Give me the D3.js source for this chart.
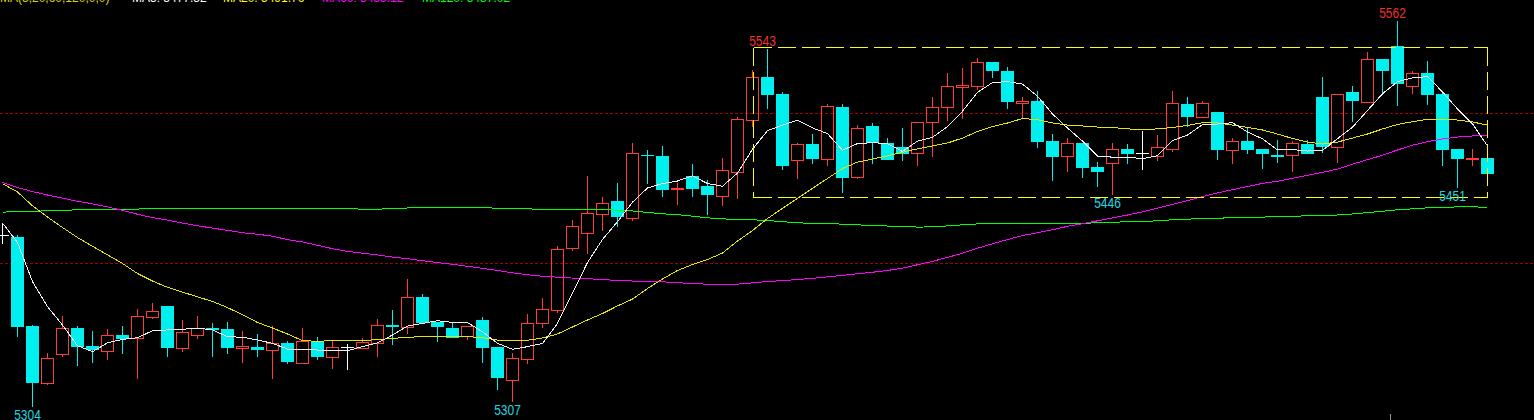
<!DOCTYPE html>
<html><head><meta charset="utf-8">
<script src="https://cdn.jsdelivr.net/npm/d3@7"></script>
<style>html,body{margin:0;padding:0;background:#000;overflow:hidden}svg{display:block}</style>
</head><body><svg id="c" width="1534" height="420"></svg>
<script>
// ---- data ----
const opens = [5418.5,5417.1,5357.4,5319.4,5338.9,5356.1,5344.0,5340.9,5351.4,5349.2,
5363.7,5370.9,5342.9,5351.6,5356.1,5355.4,5342.9,5343.6,5341.5,5345.8,
5332.8,5346.9,5336.8,5343.2,5342.9,5345.8,5357.9,5357.0,5376.9,5360.1,
5356.1,5350.9,5361.5,5343.4,5321.4,5335.5,5359.2,5368.4,5410.0,5420.0,
5432.8,5441.3,5430.1,5472.1,5471.5,5449.5,5458.0,5451.3,5444.8,5460.9,
5495.4,5524.2,5513.0,5469.0,5479.5,5469.6,5504.3,5457.6,5491.4,5480.0,
5477.3,5473.3,5494.1,5504.1,5517.9,5518.2,5534.5,5528.5,5506.8,5508.3,
5481.5,5471.7,5480.2,5464.1,5467.0,5476.2,5473.3,5471.7,5476.0,5506.3,
5497.8,5501.0,5475.7,5481.5,5476.2,5472.3,5471.9,5479.5,5511.0,5477.7,
5514.4,5507.9,5536.5,5545.2,5518.6,5527.1,5513.0,5476.2,5469.3,5470.1];
const highs = [5426.3,5418.7,5358.1,5339.3,5364.1,5357.4,5354.1,5355.4,5357.4,5368.8,
5372.9,5370.9,5361.5,5364.1,5359.5,5360.1,5354.1,5352.1,5357.4,5347.2,
5356.1,5349.9,5347.8,5345.2,5349.4,5362.1,5368.2,5389.0,5378.9,5360.1,
5359.2,5357.2,5363.5,5343.4,5339.1,5365.3,5376.0,5410.9,5428.5,5458.0,
5443.8,5453.3,5480.2,5475.5,5478.2,5453.3,5466.1,5455.4,5470.1,5497.4,
5529.1,5543,5514.4,5480.2,5486.2,5506.3,5506.3,5492.2,5493.6,5483.7,
5490.4,5494.1,5511.0,5527.1,5530.5,5537.2,5534.5,5531.1,5511.0,5515.1,
5486.2,5483.5,5480.2,5467.4,5480.2,5479.5,5488.2,5485.5,5515.1,5511.0,
5508.3,5501.0,5483.7,5490.2,5476.2,5482.0,5481.7,5482.2,5524.4,5512.8,
5518.4,5541.2,5536.5,5562,5528.5,5535.0,5514.4,5476.2,5476.2,5472.3];
const lows = [5412.9,5350.9,5304,5318.7,5337.5,5331.5,5333.5,5335.5,5339.5,5322.8,
5363.0,5337.5,5340.9,5349.6,5337.5,5339.5,5333.5,5337.5,5322.8,5332.6,
5332.8,5335.5,5329.5,5328.8,5342.9,5337.5,5345.6,5352.9,5359.2,5347.2,
5349.2,5348.9,5333.5,5315.4,5307,5332.8,5357.0,5367.0,5408.6,5406.6,
5422.0,5424.7,5428.7,5453.5,5444.6,5439.3,5444.6,5432.6,5438.8,5443.5,
5491.6,5503.9,5462.9,5456.9,5467.0,5465.6,5447.5,5456.9,5467.0,5469.0,
5469.0,5465.6,5471.7,5495.4,5496.9,5516.6,5524.6,5503.9,5497.1,5477.7,
5455.6,5461.6,5457.6,5451.5,5446,5467.0,5462.9,5469.0,5475.0,5491.8,
5497.8,5469.6,5467.0,5473.7,5463.6,5467.6,5461.6,5473.0,5474.3,5467.6,
5495.1,5507.9,5514.4,5505.9,5513.9,5506.5,5465.6,5451,5465.6,5457.6];
const closes = [5418.5,5357.0,5319.4,5335.8,5356.1,5343.6,5341.5,5351.2,5348.9,5363.9,
5367.3,5342.9,5353.2,5356.3,5354.9,5342.9,5344.2,5341.5,5345.8,5333.3,
5347.2,5336.8,5343.2,5343.2,5346.9,5357.9,5356.8,5376.7,5359.2,5357.0,
5349.2,5357.2,5342.9,5322.8,5335.8,5359.2,5368.6,5408.9,5424.3,5433.0,
5439.7,5430.7,5473.3,5471.3,5448.7,5449.8,5449.3,5445.5,5461.9,5496.1,
5524.2,5512.6,5465.0,5479.3,5469.6,5504.8,5456.9,5490.0,5480.0,5469.0,
5473.0,5494.1,5504.1,5518.2,5518.9,5534.3,5528.7,5507.9,5508.1,5481.0,
5471.0,5480.0,5463.6,5461.0,5476.2,5473.0,5473.3,5477.3,5506.8,5497.6,
5507.0,5475.7,5481.5,5475.7,5473.0,5471.0,5480.0,5473.0,5477.7,5512.8,
5508.5,5536.3,5528.7,5519.9,5527.1,5512.6,5475.7,5469.6,5469.9,5459.6];

const ma5 = [5426.5,5413.5,5387.2,5370.4,5358.1,5344.2,5340.2,5346.2,5348.5,5349.6,
5354.3,5354.8,5355.2,5356.1,5354.8,5350.3,5349.9,5348.1,5345.8,5342.0,
5342.0,5341.3,5340.9,5340.9,5343.6,5346.2,5351.4,5357.4,5359.2,5361.0,
5359.9,5359.7,5353.6,5345.8,5341.8,5343.6,5345.8,5359.2,5379.5,5400.0,
5415.5,5427.4,5440.5,5450.0,5453.0,5454.7,5458.2,5453.0,5451.2,5460.0,
5476.0,5488.5,5492.1,5495.4,5490.3,5486.5,5475.3,5479.8,5480.4,5479.8,
5474.5,5481.5,5484.0,5491.2,5501.5,5514.2,5520.7,5521.4,5519.7,5511.6,
5499.7,5490.2,5481.5,5471.4,5470.7,5470.7,5469.7,5471.6,5481.8,5485.5,
5492.5,5492.9,5493.8,5487.6,5483.0,5475.5,5475.8,5474.8,5475.2,5483.1,
5490.8,5502.0,5513.2,5521.3,5523.8,5524.7,5514.5,5503.0,5493.0,5478.2];
const ma20 = [5453.0,5447.3,5438.1,5430.5,5423.5,5416.8,5410.9,5405.2,5399.4,5392.7,
5387.6,5383.4,5380.2,5377.0,5373.9,5369.8,5365.0,5359.8,5356.1,5352.1,
5347.6,5347.2,5347.6,5347.6,5347.7,5348.3,5349.1,5349.9,5350.3,5350.3,
5350.1,5350.3,5349.7,5348.0,5347.4,5347.9,5349.4,5352.1,5356.8,5361.5,
5365.8,5370.9,5375.5,5382.6,5389.0,5394.7,5398.7,5402.0,5406.4,5414.4,
5421.5,5429.5,5436.4,5443.1,5449.8,5456.4,5463.1,5467.4,5469.4,5471.6,
5473.9,5476.3,5478.2,5480.2,5483.5,5487.9,5491.2,5493.6,5496.6,5495.9,
5493.6,5492.2,5491.6,5490.9,5490.6,5489.6,5489.4,5489.6,5490.6,5492.0,
5493.8,5493.6,5492.2,5490.7,5488.9,5486.2,5483.2,5480.8,5479.5,5480.8,
5483.5,5486.2,5489.6,5492.6,5494.5,5496.1,5496.1,5495.6,5494.3,5492.2];
const ma60 = [5453.7,5450.3,5447.6,5445.3,5443.2,5441.1,5439.4,5437.3,5435.0,5432.4,
5430.1,5428.5,5426.5,5424.7,5423.1,5421.6,5420.0,5419.0,5417.7,5415.4,
5413.8,5411.6,5409.3,5407.5,5406.3,5405.1,5403.7,5402.6,5401.2,5400.0,
5398.8,5397.5,5396.1,5394.7,5393.1,5391.8,5390.8,5390.2,5389.6,5389.2,
5388.6,5388.0,5387.6,5387.3,5387.1,5386.5,5385.9,5385.5,5385.4,5385.5,
5386.4,5387.3,5387.9,5388.6,5389.4,5390.4,5391.4,5392.5,5393.5,5394.7,
5396.2,5398.5,5400.8,5403.5,5406.2,5409.6,5412.6,5415.4,5418.1,5420.0,
5422.0,5424.3,5426.0,5428.0,5429.9,5431.9,5434.0,5436.5,5439.0,5441.5,
5444.2,5446.7,5448.9,5451.0,5453.1,5454.5,5456.5,5458.5,5460.5,5462.7,
5466.0,5469.0,5472.0,5475.5,5478.7,5481.1,5482.9,5484.2,5484.9,5485.1];
const ma120 = [5433.8,5434.2,5434.4,5434.7,5435.0,5435.4,5435.7,5435.8,5435.8,5435.9,
5436.0,5436.0,5436.1,5436.2,5436.2,5436.3,5436.4,5436.4,5436.4,5436.4,
5436.4,5436.4,5436.4,5436.4,5435.7,5435.7,5436.4,5436.6,5436.9,5437.0,
5437.0,5437.0,5436.9,5436.4,5436.2,5436.0,5435.7,5435.7,5435.6,5435.5,
5435.4,5435.2,5434.6,5433.6,5432.7,5432.1,5431.1,5430.0,5429.3,5428.9,
5428.7,5428.2,5427.4,5426.7,5426.2,5426.0,5425.8,5425.3,5424.8,5424.5,
5424.2,5423.8,5423.9,5424.6,5425.3,5425.9,5426.2,5426.3,5426.3,5426.3,
5426.3,5426.3,5426.3,5426.7,5427.1,5427.3,5427.5,5428.0,5428.7,5429.1,
5429.5,5429.8,5430.0,5430.2,5430.5,5430.8,5431.1,5431.3,5431.6,5431.9,
5432.6,5433.5,5434.4,5435.4,5436.0,5436.7,5437.1,5437.3,5437.4,5437.0];

const gridLevels = [5500, 5400];
const boxIdx = [50, 99];
const boxLevels = [5544.5, 5444];
const markIdx = [2, 34, 51, 74, 93, 97];
const markVal = [5304, 5307, 5543, 5446, 5562, 5451];
const markKind = ["low", "low", "high", "low", "high", "low"];
const headerTexts = ["MA(5,20,60,120,0,0)", "MA5: 5477.52", "MA20: 5491.76", "MA60: 5485.12", "MA120: 5437.02"];
const headerX = [0, 132, 223, 322, 422];
const headerColors = ["#d8d800", "#ffffff", "#ffff00", "#ff00ff", "#00ff00"];
const sepIdx = [93];

// ---- scales ----
const W = 1534, H = 420;
const svg = d3.select("#c");
svg.append("rect").attr("width", W).attr("height", H).attr("fill", "#000");
const n = closes.length;
const x = d3.scaleBand().domain(d3.range(n)).range([-5, 1495]).paddingInner(2/15).paddingOuter(1/15);
const bw = x.bandwidth();
const cx = i => x(i) + bw / 2;
const y = d3.scaleLinear().domain([5294.4, 5576.1]).range([H, 0]);

const RED = "#ff3b3b", CYAN = "#00f0f0";

// grid
svg.append("g").selectAll("line").data(gridLevels).join("line")
  .attr("x1", 0).attr("x2", W)
  .attr("y1", d => Math.round(y(d)) + 0.5).attr("y2", d => Math.round(y(d)) + 0.5)
  .attr("stroke", "#a00000").attr("stroke-width", 1).attr("stroke-dasharray", "3,2")
  .attr("shape-rendering", "crispEdges");

// candles
const cg = svg.append("g").attr("shape-rendering", "crispEdges");
d3.range(n).forEach(i => {
  const o = opens[i], c = closes[i], h = highs[i], l = lows[i];
  const top = Math.round(y(Math.max(o, c))), bot = Math.round(y(Math.min(o, c)));
  const xc = Math.floor(cx(i)) + 0.5;
  const col = c > o ? RED : (c < o ? CYAN : "#ffffff");
  const yh = Math.round(y(h)), yl = Math.round(y(l));
  if (yh < top) cg.append("line").attr("x1", xc).attr("x2", xc).attr("y1", yh).attr("y2", top).attr("stroke", col);
  if (yl > bot) cg.append("line").attr("x1", xc).attr("x2", xc).attr("y1", bot).attr("y2", yl + 1).attr("stroke", col);
  if (c > o) {
    cg.append("rect").attr("x", x(i) + 0.5).attr("y", top + 0.5).attr("width", bw - 1)
      .attr("height", Math.max(0, bot - top)).attr("fill", "none").attr("stroke", RED);
  } else if (c < o) {
    cg.append("rect").attr("x", x(i)).attr("y", top).attr("width", bw)
      .attr("height", Math.max(1, bot - top)).attr("fill", CYAN);
  } else {
    cg.append("line").attr("x1", x(i)).attr("x2", x(i) + bw).attr("y1", top + 0.5).attr("y2", top + 0.5).attr("stroke", "#ffffff");
  }
});

// moving averages
const line = d3.line().x((d, i) => cx(i)).y(d => y(d));
[[ma120, "#00ff00"], [ma60, "#ff00ff"], [ma20, "#e6e600"], [ma5, "#f0f0f0"]].forEach(([arr, col]) => {
  svg.append("path").datum(arr).attr("d", line).attr("fill", "none")
    .attr("stroke", col).attr("stroke-width", 1).attr("shape-rendering", "crispEdges");
});

// dashed box
const bx1 = Math.floor(cx(boxIdx[0])) + 1.5, bx2 = Math.floor(cx(boxIdx[1])) + 0.5;
const by1 = Math.round(y(boxLevels[0])) + 0.5, by2 = Math.round(y(boxLevels[1])) + 0.5;
const bg = svg.append("g").attr("stroke", "#ffff00").attr("stroke-width", 1)
  .attr("stroke-dasharray", "18,6").attr("fill", "none").attr("shape-rendering", "crispEdges");
bg.append("line").attr("x1", bx1).attr("x2", bx2).attr("y1", by1).attr("y2", by1);
bg.append("line").attr("x1", bx1).attr("x2", bx2).attr("y1", by2).attr("y2", by2);
bg.append("line").attr("x1", bx1).attr("x2", bx1).attr("y1", by1).attr("y2", by2);
bg.append("line").attr("x1", bx2).attr("x2", bx2).attr("y1", by1).attr("y2", by2);

// high / low marks
markIdx.forEach((idx, k) => {
  const isHigh = markKind[k] === "high";
  const ty = isHigh ? y(markVal[k]) - 3.5 : y(markVal[k]) + 14;
  svg.append("text")
    .attr("transform", `translate(${cx(idx) - 5},${ty}) scale(1,1.25)`)
    .attr("text-anchor", "middle")
    .attr("font-family", "Liberation Sans, Arial, sans-serif").attr("font-size", 12)
    .attr("fill", isHigh ? "#f03030" : "#20d8e0")
    .text(markVal[k]);
});

// header (cut off at top, as in the source screenshot)
headerTexts.forEach((t, k) => {
  svg.append("text").attr("x", headerX[k]).attr("y", 1.5)
    .attr("font-family", "Liberation Sans, Arial, sans-serif").attr("font-size", 12)
    .attr("fill", headerColors[k]).text(t);
});

// bottom separator tick
svg.append("g").selectAll("line").data(sepIdx).join("line")
  .attr("x1", d => x(d) - 0.5).attr("x2", d => x(d) - 0.5)
  .attr("y1", 414).attr("y2", H).attr("stroke", "#909090").attr("shape-rendering", "crispEdges");
</script>
</body></html>
